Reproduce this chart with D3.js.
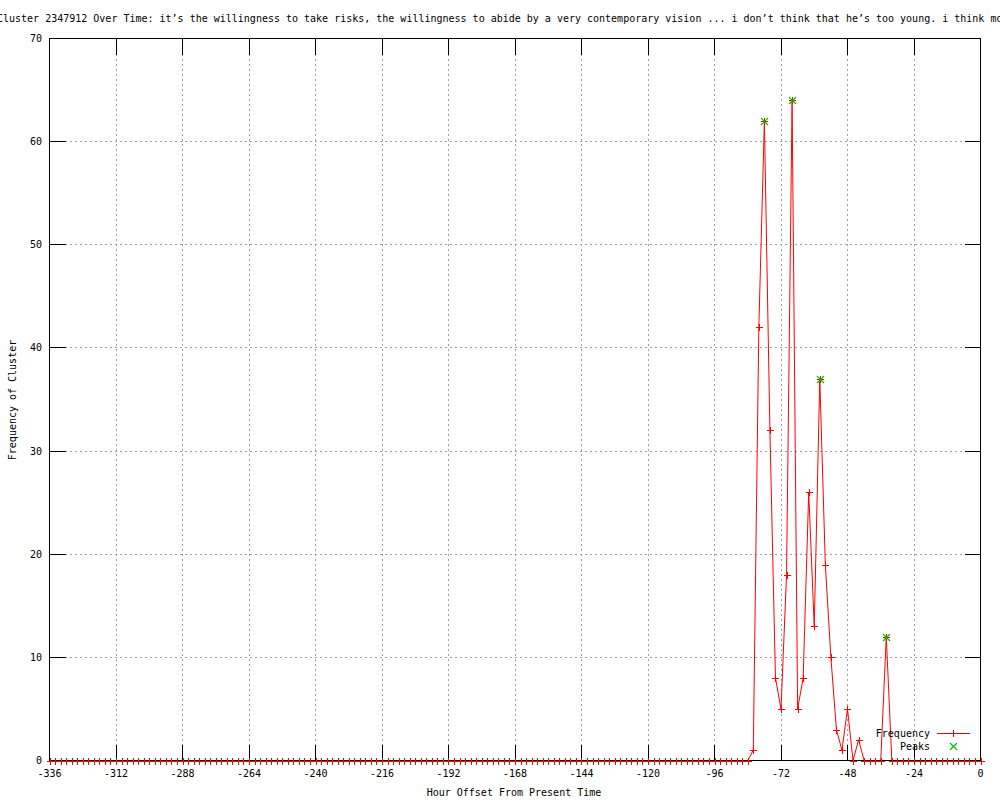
<!DOCTYPE html>
<html>
<head>
<meta charset="utf-8">
<script src="https://cdn.jsdelivr.net/npm/d3@7"></script>
<style>
  body { margin: 0; background: #fff; }
  text { font-family: "DejaVu Sans Mono", monospace; font-size: 10px; fill: #000; }
</style>
</head>
<body>
<script>
// hours before present, one sample every 2 hours
var hours = d3.range(-336, 1, 2);
var freq = [
  0,0,0,0,0,0,0,0,0,0,0,0,0,0,0,0,0,0,0,0,0,0,0,0,
  0,0,0,0,0,0,0,0,0,0,0,0,0,0,0,0,0,0,0,0,0,0,0,0,
  0,0,0,0,0,0,0,0,0,0,0,0,0,0,0,0,0,0,0,0,0,0,0,0,
  0,0,0,0,0,0,0,0,0,0,0,0,0,0,0,0,0,0,0,0,0,0,0,0,
  0,0,0,0,0,0,0,0,0,0,0,0,0,0,0,0,0,0,0,0,0,0,0,0,
  0,0,0,0,0,0,0,
  1,42,62,32,8,5,18,64,5,8,26,13,37,19,10,3,1,5,0,2,0,0,0,0,12,
  0,0,0,0,0,0,0,0,0,0,0,0,0,0,0,0,0
];
var peakHours = [-78, -68, -58, -34];
var peakValues = [62, 64, 37, 12];
var xTicks = [-336, -312, -288, -264, -240, -216, -192, -168, -144, -120, -96, -72, -48, -24, 0];
var yTicks = [0, 10, 20, 30, 40, 50, 60, 70];

var title = "Cluster 2347912 Over Time: it\u2019s the willingness to take risks, the willingness to abide by a very contemporary vision ... i don\u2019t think that he\u2019s too young. i think most";

var data = hours.map(function(h, i) { return {h: h, v: freq[i]}; });
var peaks = peakHours.map(function(h, i) { return {h: h, v: peakValues[i]}; });

var width = 1000, height = 800;
var x = d3.scaleLinear().domain([-336, 0]).range([49.5, 980.5]);
var y = d3.scaleLinear().domain([0, 70]).range([760.5, 38.5]);
var tickLen = 16;

var svg = d3.select("body").append("svg")
    .attr("width", width)
    .attr("height", height);

svg.append("rect").attr("width", width).attr("height", height).attr("fill", "#fff");

// grid
var grid = svg.append("g").attr("shape-rendering", "crispEdges")
    .attr("stroke", "#a0a0a0").attr("stroke-dasharray", "2,3");
grid.selectAll(".gx").data(xTicks.slice(1, -1)).enter().append("line")
    .attr("x1", function(d) { return x(d); }).attr("x2", function(d) { return x(d); })
    .attr("y1", y(0)).attr("y2", y(70));
grid.selectAll(".gy").data(yTicks.slice(1, -1)).enter().append("line")
    .attr("y1", function(d) { return y(d); }).attr("y2", function(d) { return y(d); })
    .attr("x1", x(-336)).attr("x2", x(0));

// frequency line
var line = d3.line().x(function(d) { return x(d.h); }).y(function(d) { return y(d.v); });
svg.append("path").datum(data)
    .attr("d", line)
    .attr("fill", "none")
    .attr("stroke", "#ff0000")
    .attr("stroke-width", 1);

// border + ticks
var axes = svg.append("g").attr("shape-rendering", "crispEdges").attr("stroke", "#000");
axes.append("rect")
    .attr("x", x(-336)).attr("y", y(70))
    .attr("width", x(0) - x(-336)).attr("height", y(0) - y(70))
    .attr("fill", "none");
xTicks.forEach(function(t) {
    axes.append("line").attr("x1", x(t)).attr("x2", x(t)).attr("y1", y(0)).attr("y2", y(0) - tickLen);
    axes.append("line").attr("x1", x(t)).attr("x2", x(t)).attr("y1", y(70)).attr("y2", y(70) + tickLen);
});
yTicks.forEach(function(t) {
    axes.append("line").attr("y1", y(t)).attr("y2", y(t)).attr("x1", x(-336)).attr("x2", x(-336) + tickLen);
    axes.append("line").attr("y1", y(t)).attr("y2", y(t)).attr("x1", x(0)).attr("x2", x(0) - tickLen);
});

// markers
function plus(g, cx, cy, color) {
    g.append("path")
        .attr("d", "M" + (cx - 3.5) + "," + cy + "H" + (cx + 3.5) + "M" + cx + "," + (cy - 3.5) + "V" + (cy + 3.5))
        .attr("stroke", color).attr("fill", "none").attr("shape-rendering", "crispEdges");
}
function cross(g, cx, cy, color) {
    g.append("path")
        .attr("d", "M" + (cx - 3.5) + "," + (cy - 3.5) + "L" + (cx + 3.5) + "," + (cy + 3.5) +
                   "M" + (cx - 3.5) + "," + (cy + 3.5) + "L" + (cx + 3.5) + "," + (cy - 3.5))
        .attr("stroke", color).attr("stroke-width", 1.2).attr("fill", "none");
}
var marks = svg.append("g");
data.forEach(function(d) { plus(marks, Math.round(x(d.h)) + 0.5, Math.round(y(d.v)) + 0.5, "#ff0000"); });
peaks.forEach(function(d) { cross(marks, Math.round(x(d.h)) + 0.5, Math.round(y(d.v)) + 0.5, "#00c000"); });

// tick labels
svg.selectAll(".xl").data(xTicks).enter().append("text")
    .attr("x", function(d) { return x(d); })
    .attr("y", 777)
    .attr("text-anchor", "middle")
    .text(function(d) { return d; });
svg.selectAll(".yl").data(yTicks).enter().append("text")
    .attr("x", 42)
    .attr("y", function(d) { return y(d); })
    .attr("dy", "0.35em")
    .attr("text-anchor", "end")
    .text(function(d) { return d; });

// titles (the long title runs past both page edges, as in the original)
svg.append("text").attr("x", -3).attr("y", 22).text(title);
svg.append("text").attr("x", 514).attr("y", 796).attr("text-anchor", "middle")
    .text("Hour Offset From Present Time");
svg.append("text").attr("transform", "translate(16,400) rotate(-90)").attr("text-anchor", "middle")
    .text("Frequency of Cluster");

// legend
svg.append("text").attr("x", 930).attr("y", 737).attr("text-anchor", "end").text("Frequency");
svg.append("line").attr("x1", 937).attr("x2", 970).attr("y1", 733.5).attr("y2", 733.5)
    .attr("stroke", "#ff0000").attr("shape-rendering", "crispEdges");
plus(svg, 953.5, 733.5, "#ff0000");
svg.append("text").attr("x", 930).attr("y", 750).attr("text-anchor", "end").text("Peaks");
cross(svg, 953.5, 746.5, "#00c000");
</script>
</body>
</html>
